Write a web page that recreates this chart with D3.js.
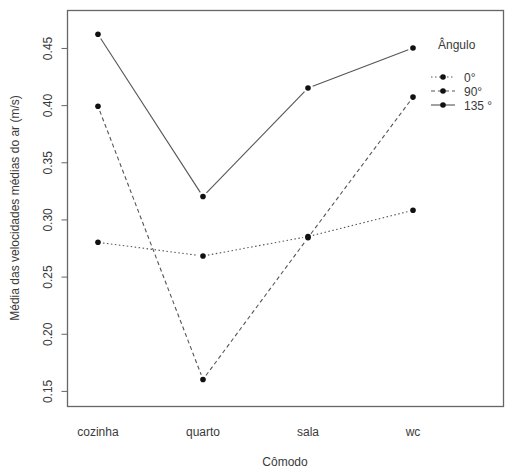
<!DOCTYPE html>
<html>
<head>
<meta charset="utf-8">
<script src="https://cdn.jsdelivr.net/npm/d3@7"></script>
<style>
  body { margin: 0; background: #fff; }
  text { font-family: "Liberation Sans", Arial, sans-serif; fill: #3a3a3a; }
</style>
</head>
<body>
<div id="chart"></div>
<script>
// data
var comodos = ["cozinha", "quarto", "sala", "wc"];
var angulos = ["0°", "90°", "135 °"];
var v0   = [0.280, 0.268, 0.285, 0.308];
var v90  = [0.399, 0.160, 0.284, 0.407];
var v135 = [0.462, 0.320, 0.415, 0.450];
var yTicks = [0.15, 0.20, 0.25, 0.30, 0.35, 0.40, 0.45];

var series = [
  { name: angulos[0], values: v0,   dash: "1.5,2.5" },
  { name: angulos[1], values: v90,  dash: "4,3" },
  { name: angulos[2], values: v135, dash: null }
];

var width = 505, height = 468;
var margin = { top: 10, right: 2, bottom: 62, left: 67 };

var svg = d3.select("#chart").append("svg")
    .attr("width", width)
    .attr("height", height);

var x = d3.scaleLinear()
    .domain([0.705, 4.857])
    .range([margin.left, width - margin.right]);
var y = d3.scaleLinear()
    .domain([0.1368, 0.4832])
    .range([height - margin.bottom, margin.top]);

// plot box
svg.append("rect")
    .attr("x", margin.left + 0.5)
    .attr("y", margin.top + 0.5)
    .attr("width", width - margin.right - margin.left)
    .attr("height", height - margin.bottom - margin.top)
    .attr("fill", "none")
    .attr("stroke", "#666")
    .attr("stroke-width", 1.3);

// y axis
var yAxis = svg.append("g")
    .attr("transform", "translate(" + (margin.left + 0.5) + ",0)")
    .call(d3.axisLeft(y).tickValues(yTicks).tickSize(6).tickFormat(d3.format(".2f")));
yAxis.select(".domain").remove();
yAxis.selectAll(".tick line").attr("stroke", "#666");
yAxis.selectAll(".tick text")
    .attr("x", 0).attr("dy", 0)
    .attr("transform", "translate(-20,0) rotate(-90)")
    .attr("text-anchor", "middle")
    .attr("dominant-baseline", "central")
    .style("font-size", "12px")
    .style("fill", "#3a3a3a");

// x labels (no tick marks)
svg.append("g").selectAll("text")
    .data(comodos)
    .enter().append("text")
    .attr("x", function (d, i) { return x(i + 1); })
    .attr("y", 436)
    .attr("text-anchor", "middle")
    .style("font-size", "12px")
    .text(function (d) { return d; });

// axis titles
svg.append("text")
    .attr("x", (margin.left + width - margin.right) / 2)
    .attr("y", 466)
    .attr("text-anchor", "middle")
    .style("font-size", "12px")
    .text("Cômodo");

svg.append("text")
    .attr("transform", "translate(19," + ((margin.top + height - margin.bottom) / 2) + ") rotate(-90)")
    .attr("text-anchor", "middle")
    .style("font-size", "12px")
    .text("Média das velocidades médias do ar (m/s)");

// lines with gaps around points (type = "b")
var gap = 5;
series.forEach(function (s) {
  var pts = s.values.map(function (v, i) { return [x(i + 1), y(v)]; });
  var g = svg.append("g");
  for (var i = 0; i < pts.length - 1; i++) {
    var a = pts[i], b = pts[i + 1];
    var dx = b[0] - a[0], dy = b[1] - a[1];
    var len = Math.sqrt(dx * dx + dy * dy);
    var ux = dx / len, uy = dy / len;
    g.append("path")
      .attr("d", d3.line()([[a[0] + ux * gap, a[1] + uy * gap], [b[0] - ux * gap, b[1] - uy * gap]]))
      .attr("fill", "none")
      .attr("stroke", "#555")
      .attr("stroke-width", 1.1)
      .attr("stroke-dasharray", s.dash);
  }
  g.selectAll("circle")
    .data(s.values)
    .enter().append("circle")
    .attr("cx", function (d, i) { return x(i + 1); })
    .attr("cy", function (d) { return y(d); })
    .attr("r", 2.8)
    .attr("fill", "#111");
});

// legend
var lg = svg.append("g");
lg.append("text")
    .attr("x", 438)
    .attr("y", 49)
    .style("font-size", "12px")
    .text("Ângulo");

series.forEach(function (s, i) {
  var ly = 77 + i * 14;
  lg.append("line")
    .attr("x1", 431).attr("x2", 455)
    .attr("y1", ly).attr("y2", ly)
    .attr("stroke", "#555")
    .attr("stroke-width", 1.1)
    .attr("stroke-dasharray", s.dash);
  lg.append("circle")
    .attr("cx", 443).attr("cy", ly)
    .attr("r", 2.8)
    .attr("fill", "#111");
  lg.append("text")
    .attr("x", 464)
    .attr("y", ly + 4.5)
    .style("font-size", "12px")
    .text(s.name);
});
</script>
</body>
</html>
